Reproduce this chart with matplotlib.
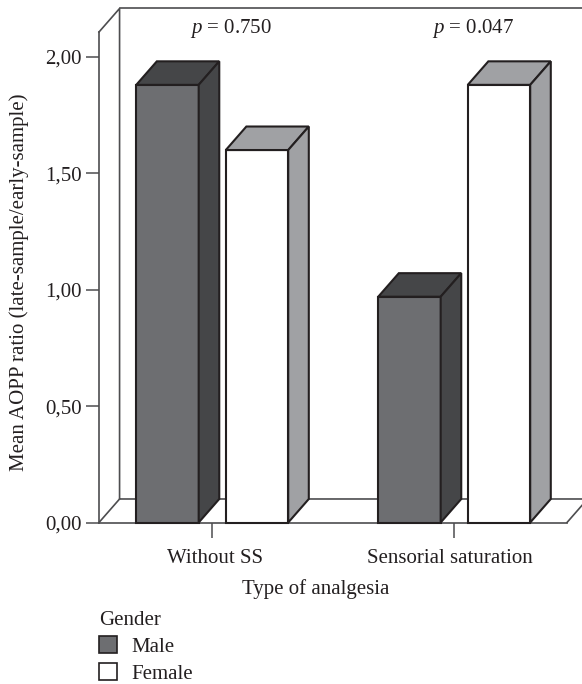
import matplotlib
matplotlib.use("Agg")
import matplotlib.pyplot as plt
from matplotlib.patches import Patch
from matplotlib.transforms import ScaledTranslation

plt.rcParams["font.family"] = ["Liberation Serif", "DejaVu Serif"]
plt.rcParams["mathtext.fontset"] = "custom"
plt.rcParams["mathtext.it"] = "Liberation Serif:italic"
plt.rcParams["mathtext.rm"] = "Liberation Serif"

categories = ["Without SS", "Sensorial saturation"]
male_values = [1.88, 0.97]
female_values = [1.60, 1.88]
p_labels = ["$\\mathit{p}$ = 0.750", "$\\mathit{p}$ = 0.047"]
y_ticks = [0.0, 0.5, 1.0, 1.5, 2.0]
y_tick_labels = ["0,00", "0,50", "1,00", "1,50", "2,00"]

W, H = 582, 684
LINE = "#231f20"
WALL = "#4d4d4f"
BAR_W = 0.258
OFFSET = 0.185
DX = 0.085   # 3d depth, data units
DY = 0.101
FONT = 15


def draw_bar(ax, xc, value, front, top, side):
    x0, x1 = xc - BAR_W / 2, xc + BAR_W / 2
    kw = dict(edgecolor=LINE, linewidth=1.5, joinstyle="miter", zorder=3, clip_on=False)
    ax.fill([x0, x1, x1, x0], [0, 0, value, value], facecolor=front, **kw)
    ax.fill([x0, x1, x1 + DX, x0 + DX], [value, value, value + DY, value + DY], facecolor=top, **kw)
    ax.fill([x1, x1 + DX, x1 + DX, x1], [0, DY, value + DY, value], facecolor=side, **kw)


fig = plt.figure(figsize=(W / 100, H / 100), dpi=100)
ax = fig.add_axes([99 / W, 1 - 522.5 / H, (567 - 99) / W, (522.5 - 32) / H])
ax.set_xlim(-0.468, 1.466)
ax.set_ylim(0, 2.107)
ax.patch.set_visible(False)

for name in ["top", "right"]:
    ax.spines[name].set_visible(False)
for name in ["left", "bottom"]:
    ax.spines[name].set_color(WALL)
    ax.spines[name].set_linewidth(1.2)

# back wall and floor of the 3d box
xl, xr = ax.get_xlim()
yt = ax.get_ylim()[1]
wall = dict(color=WALL, linewidth=1.2, zorder=1, clip_on=False)
ax.plot([xl, xl + DX, xl + DX, xr + DX * 2], [yt, yt + DY, DY, DY], **wall)
ax.plot([xl + DX, xr + DX * 2], [yt + DY, yt + DY], **wall)
ax.plot([xl, xl + DX], [0, DY], **wall)
ax.plot([xr, xr + DX], [0, DY], **wall)

for i, cat in enumerate(categories):
    draw_bar(ax, i - OFFSET, male_values[i], "#6d6e71", "#454648", "#454648")
    draw_bar(ax, i + OFFSET, female_values[i], "white", "#a0a1a4", "#a0a1a4")
    ax.text(i + 0.077, 2.12, p_labels[i], ha="center", va="center", fontsize=FONT, color=LINE)

ax.set_xticks(range(len(categories)))
ax.set_xticklabels(categories, fontsize=FONT, color=LINE)
ax.set_yticks(y_ticks)
ax.set_yticklabels(y_tick_labels, fontsize=FONT, color=LINE)
ax.tick_params(axis="x", length=10.5, width=1.1, color=WALL, pad=8.5)
ax.tick_params(axis="y", length=9.4, width=1.1, color=WALL, pad=3)

# labels sit a few px off their ticks in the original
for label, shift in zip(ax.get_xticklabels(), [3, -4]):
    label.set_transform(label.get_transform() + ScaledTranslation(shift / 100, 0, fig.dpi_scale_trans))

fig.text(316 / W, 1 - 589 / H, "Type of analgesia", ha="center", va="center", fontsize=FONT, color=LINE)
fig.text(19 / W, 1 - 282 / H, "Mean AOPP ratio (late-sample/early-sample)", rotation=90,
         ha="center", va="center", fontsize=FONT, color=LINE)

handles = [
    Patch(facecolor="#6d6e71", edgecolor=LINE, linewidth=1.2, label="Male"),
    Patch(facecolor="white", edgecolor=LINE, linewidth=1.2, label="Female"),
]
leg = fig.legend(handles=handles, title="Gender", loc="upper left",
                 bbox_to_anchor=(99 / W, 1 - 611 / H), bbox_transform=fig.transFigure,
                 frameon=False, fontsize=FONT, title_fontsize=FONT, alignment="left",
                 borderpad=0, borderaxespad=0, handlelength=0.87, handleheight=0.87,
                 handletextpad=0.68, labelspacing=0.3)
leg.get_title().set_color(LINE)
for t in leg.get_texts():
    t.set_color(LINE)

fig.savefig("out.png", dpi=100)
